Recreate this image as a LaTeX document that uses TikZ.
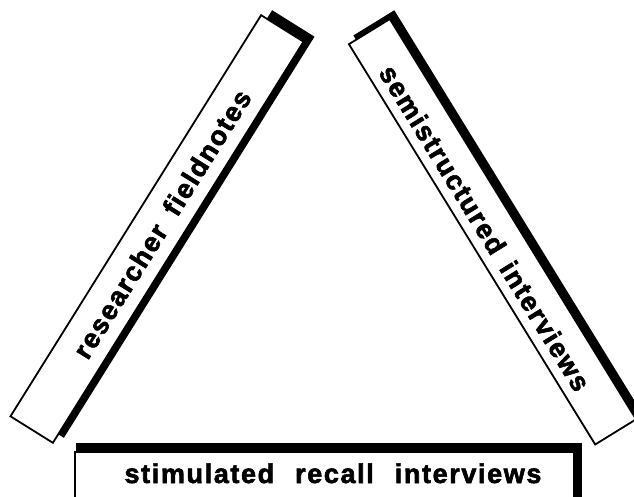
\documentclass[tikz,border=0pt]{standalone}
\usepackage{fontspec}
\newfontfamily\labelfont{Liberation Sans Bold}[LetterSpace=6, FakeBold=2.2]
\begin{document}
\begin{tikzpicture}[x=1pt,y=1pt,
  barbox/.style={draw=black, fill=white, line width=1.8pt, inner sep=0pt},
  barshadow/.style={fill=black, inner sep=0pt},
  barlabel/.style={inner sep=0pt, font=\labelfont\fontsize{27}{27}\selectfont}]
\useasboundingbox (0,0) rectangle (634,496);

% left bar: researcher fieldnotes
\node[barshadow, minimum width=473pt, minimum height=50pt, rotate=58] (rfshadow) at (168,272) {};
\node[barbox, minimum width=473pt, minimum height=50pt, rotate=58] (rf) at (157,267) {};
\node[barlabel, rotate=58] (rftext) at (162,272) {researcher\hspace{16pt}fieldnotes};

% right bar: semistructured interviews
\node[barshadow, minimum width=470pt, minimum height=48pt, rotate=-58.4] (sishadow) at (497,273) {};
\node[barbox, minimum width=470pt, minimum height=48pt, rotate=-58.4] (si) at (492.5,264.25) {};
\node[barlabel, rotate=-58.4] (sitext) at (485,268) {semistructured\hspace{14pt}interviews};

% bottom bar: stimulated recall interviews
\node[barshadow, minimum width=506pt, minimum height=60pt, anchor=north west] (srshadow) at (76,53) {};
\node[barbox, minimum width=499pt, minimum height=47pt, anchor=north west] (sr) at (74,45) {};
\node[barlabel, anchor=base] (srtext) at (333,13) {stimulated\hspace{21pt}recall\hspace{21pt}interviews};
\end{tikzpicture}
\end{document}
